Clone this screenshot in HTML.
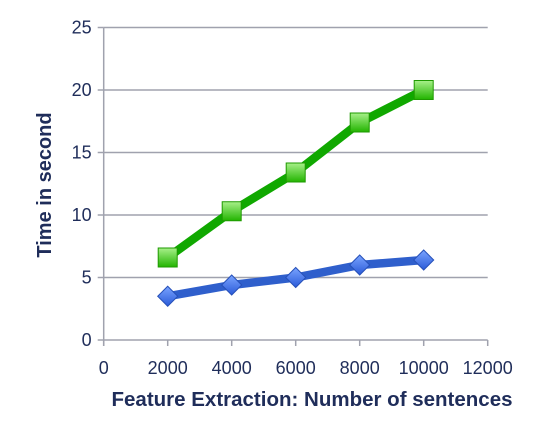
<!DOCTYPE html>
<html><head><meta charset="utf-8"><style>
body{margin:0;background:#fff;}
svg text{font-family:"Liberation Sans",Arial,sans-serif;fill:#1f2d5a;}
</style></head><body>
<svg id="chart" width="544" height="442" viewBox="0 0 544 442" xmlns="http://www.w3.org/2000/svg">
<defs>
<linearGradient id="gsq" x1="0" y1="0" x2="0" y2="1"><stop offset="0" stop-color="#a8f08a"/><stop offset="1" stop-color="#22b400"/></linearGradient>
<linearGradient id="gdi" x1="0" y1="0" x2="0" y2="1"><stop offset="0" stop-color="#7aa4ff"/><stop offset="1" stop-color="#2a5ad8"/></linearGradient>
</defs>
<g id="grid"></g><g id="axes"></g><g id="series"></g>
<text transform="translate(51,185) rotate(-90)" text-anchor="middle" font-size="20" font-weight="bold">Time in second</text>
<text x="312" y="406" text-anchor="middle" font-size="20.5" font-weight="bold">Feature Extraction: Number of sentences</text>
</svg>
<script>
const categories=[2000,4000,6000,8000,10000];
const greenValues=[6.6,10.3,13.4,17.4,20.0];
const blueValues=[3.5,4.4,5.0,6.0,6.4];
const xTicks=[0,2000,4000,6000,8000,10000,12000];
const yTicks=[0,5,10,15,20,25];
const NS="http://www.w3.org/2000/svg";
const X0=103.7,X1=487.7,Y0=340,Y1=27.5;
const xs=v=>X0+(v/12000)*(X1-X0);
const ys=v=>Y0-(v/25)*(Y0-Y1);
function mk(tag,attrs,parent){const e=document.createElementNS(NS,tag);for(const k in attrs)e.setAttribute(k,attrs[k]);parent.appendChild(e);return e;}
const grid=document.getElementById('grid'),axes=document.getElementById('axes'),ser=document.getElementById('series');
yTicks.forEach(t=>{
 const y=ys(t);
 if(t>0){const g=mk('line',{x1:X0,x2:X1,y1:y,y2:y,stroke:'#a0a2ae','stroke-width':1.5},grid);
 
 }
 mk('line',{x1:X0-6,x2:X0,y1:y,y2:y,stroke:'#a0a2ae','stroke-width':1.5},axes);
 const l=mk('text',{x:X0-12,y:y+6,'text-anchor':'end','font-size':18},axes);l.textContent=t;
 
 
});
mk('line',{x1:X0,x2:X0,y1:Y1,y2:Y0+6,stroke:'#a0a2ae','stroke-width':1.5},axes);
mk('line',{x1:X0,x2:X1,y1:Y0,y2:Y0,stroke:'#a0a2ae','stroke-width':1.5},axes);
xTicks.forEach(t=>{
 const x=xs(t);
 mk('line',{x1:x,x2:x,y1:Y0,y2:Y0+6,stroke:'#a0a2ae','stroke-width':1.5},axes);
 const l=mk('text',{x:x,y:Y0+34,'text-anchor':'middle','font-size':18},axes);l.textContent=t;
 
 
});
function line(vals,color,name){
 const p=mk('polyline',{points:vals.map((v,i)=>xs(categories[i])+','+ys(v)).join(' '),fill:'none',stroke:color,'stroke-width':8.5,'stroke-linejoin':'round'},ser);
 
 
}
line(greenValues,'#10a800','green-series-line');
line(blueValues,'#2f5fcc','blue-series-line');
greenValues.forEach((v,i)=>{
 const x=xs(categories[i]),y=ys(v);
 const r=mk('rect',{x:x-9.5,y:y-9.5,width:19,height:19,fill:'url(#gsq)',stroke:'#1e9a00','stroke-width':1},ser);
 
 
});
blueValues.forEach((v,i)=>{
 const x=xs(categories[i]),y=ys(v);
 const d=mk('polygon',{points:`${x},${y-10} ${x+10},${y} ${x},${y+10} ${x-10},${y}`,fill:'url(#gdi)',stroke:'#2650b8','stroke-width':1},ser);
 
 
});
</script>
</body></html>
